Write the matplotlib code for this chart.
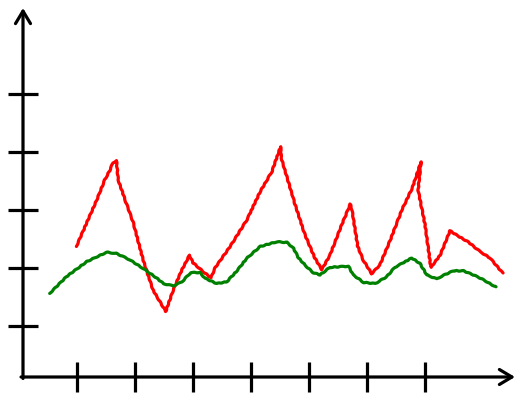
import matplotlib
matplotlib.use("Agg")
import matplotlib.pyplot as plt

# red series
red_x = [0.99, 1.34, 1.48, 1.57, 1.62, 1.68, 1.71, 1.83, 1.97, 2.14, 2.31, 2.53, 2.66, 2.81,
         2.94, 3.00, 3.17, 3.31, 3.38, 3.64, 3.93, 4.16, 4.36, 4.51, 4.52, 4.76, 4.93, 5.10,
         5.22, 5.36, 5.53, 5.71, 5.74, 5.84, 5.93, 6.08, 6.22, 6.40, 6.60, 6.78, 6.93, 6.88,
         7.00, 7.10, 7.26, 7.43, 7.57, 7.74, 7.95, 8.12, 8.34]
red_y = [2.37, 3.17, 3.52, 3.69, 3.81, 3.85, 3.52, 3.17, 2.78, 2.14, 1.62, 1.25, 1.62, 1.97,
         2.22, 2.09, 1.94, 1.83, 2.00, 2.37, 2.83, 3.32, 3.66, 4.09, 3.90, 3.09, 2.57, 2.17,
         1.97, 2.22, 2.66, 3.10, 3.00, 2.37, 2.14, 1.90, 2.05, 2.48, 3.00, 3.38, 3.83, 3.34,
         2.74, 2.01, 2.22, 2.64, 2.55, 2.45, 2.28, 2.17, 1.91]

# green series
green_x = [0.53, 0.82, 1.17, 1.51, 1.68, 1.91, 2.14, 2.34, 2.49, 2.66, 2.81, 2.96, 3.12, 3.21,
           3.41, 3.58, 3.75, 3.93, 4.16, 4.44, 4.62, 4.73, 4.82, 4.96, 5.07, 5.19, 5.36, 5.68,
           5.76, 5.94, 6.14, 6.34, 6.48, 6.77, 6.91, 7.03, 7.20, 7.29, 7.49, 7.66, 7.83, 7.98, 8.22]
green_y = [1.56, 1.85, 2.11, 2.27, 2.25, 2.14, 1.99, 1.85, 1.73, 1.69, 1.76, 1.92, 1.92, 1.82,
           1.73, 1.76, 1.94, 2.17, 2.37, 2.45, 2.44, 2.34, 2.17, 2.02, 1.92, 1.88, 2.01, 2.03,
           1.88, 1.75, 1.73, 1.85, 2.01, 2.17, 2.08, 1.88, 1.81, 1.86, 1.95, 1.95, 1.88, 1.81, 1.67]

x_ticks = [1, 2, 3, 4, 5, 6, 7]
y_ticks = [1, 2, 3, 4, 5]

fig = plt.figure(figsize=(5.21, 4.04), dpi=100)
ax = fig.add_axes([23 / 521, 27 / 404, 492 / 521, 369 / 404])
ax.set_xlim(0.07, 8.55)
ax.set_ylim(0.12, 6.48)

for x, y, c in [(red_x, red_y, "#ff0000"), (green_x, green_y, "#008000")]:
    ln, = ax.plot(x, y, color=c, lw=2.3, solid_capstyle="round", solid_joinstyle="round")
    ln.set_sketch_params(scale=0.35, length=8, randomness=2)

for s in ax.spines.values():
    s.set_visible(False)

ax.set_xticks(x_ticks)
ax.set_yticks(y_ticks)
ax.set_xticklabels([])
ax.set_yticklabels([])
ax.tick_params(direction="inout", length=21, width=2.3, color="black")

arrow = dict(arrowstyle="->,head_length=0.45,head_width=0.27", lw=2.3, color="black",
             mutation_scale=20, shrinkA=0, shrinkB=0)
ax.annotate("", xy=(1, 0), xytext=(-0.004, 0), xycoords="axes fraction",
            arrowprops=arrow, annotation_clip=False)
ax.annotate("", xy=(0, 1), xytext=(0, -0.004), xycoords="axes fraction",
            arrowprops=arrow, annotation_clip=False)

fig.savefig("out.png", dpi=100)
